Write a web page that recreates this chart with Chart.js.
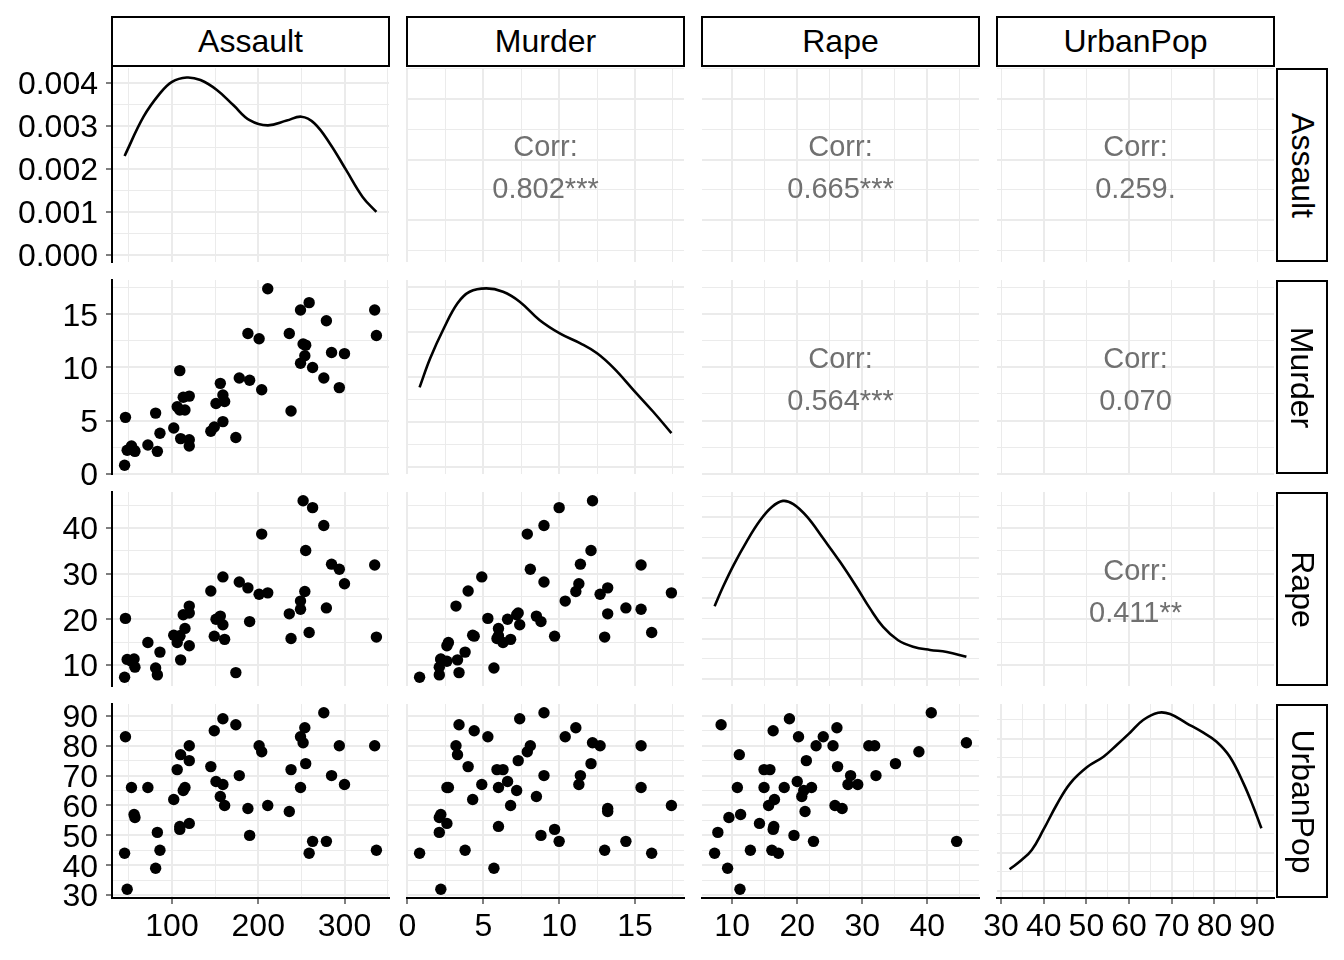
<!DOCTYPE html>
<html>
<head>
<meta charset="utf-8">
<script src="https://cdn.jsdelivr.net/npm/chart.js@4.4.1/dist/chart.umd.min.js"></script>
<style>
body { margin: 0; background: #fff; }
#wrap { position: relative; width: 1344px; height: 960px; overflow: hidden; font-family: 'Liberation Sans', Arial, sans-serif; }
canvas { position: absolute; }
.strip { position: absolute; box-sizing: border-box; border: 2.5px solid #000; background: #fff; display: flex; align-items: center; justify-content: center; font-size: 32px; color: #000; }
.strip.side span { transform: rotate(90deg); white-space: nowrap; }
.corr { position: absolute; text-align: center; color: #707070; font-size: 29px; line-height: 42px; }
</style>
</head>
<body>
<div id="wrap"></div>
<script>
// USArrests (state order)
const vars = ['Assault', 'Murder', 'Rape', 'UrbanPop'];
const assault = [236,263,294,190,276,204,110,238,335,211,46,120,249,113,56,115,109,249,83,300,149,255,72,259,178,109,102,252,57,159,285,254,337,45,120,151,159,106,174,279,86,188,201,120,48,156,145,81,53,161];
const murder = [13.2,10.0,8.1,8.8,9.0,7.9,3.3,5.9,15.4,17.4,5.3,2.6,10.4,7.2,2.2,6.0,9.7,15.4,2.1,11.3,4.4,12.1,2.7,16.1,9.0,6.0,4.3,12.2,2.1,7.4,11.4,11.1,13.0,0.8,7.3,6.6,4.9,6.3,3.4,14.4,3.8,13.2,12.7,3.2,2.2,8.5,4.0,5.7,2.6,6.8];
const rape = [21.2,44.5,31.0,19.5,40.6,38.7,11.1,15.8,31.9,25.8,20.2,14.2,24.0,21.0,11.3,18.0,16.3,22.2,7.8,27.8,16.3,35.1,14.9,17.1,28.2,16.4,16.5,46.0,9.5,18.8,32.1,26.1,16.1,7.3,21.4,20.0,29.3,14.9,8.3,22.5,12.8,26.9,25.5,22.9,11.2,20.7,26.2,9.3,10.8,15.6];
const urbanPop = [58,48,80,50,91,78,77,72,80,60,83,54,83,65,57,66,52,66,51,67,85,74,66,44,70,53,62,81,56,89,70,86,45,44,75,68,67,72,87,48,45,59,80,80,32,63,73,39,66,60];

// density curves
const assaultDensX = [45,67,86,100,117,133,152,171,190,211,233,250,265,283,302,321,337];
const assaultDensY = [0.00230,0.00321,0.00375,0.00402,0.00412,0.00406,0.00383,0.00348,0.00313,0.00301,0.00312,0.00321,0.00306,0.00259,0.00197,0.00135,0.00100];
const murderDensX = [0.8,1.5,2.4,3.3,4.1,5.2,6.3,7.4,8.7,10.1,11.4,12.5,13.6,14.9,16.2,17.4];
const murderDensY = [0.0354,0.0483,0.0616,0.0727,0.0778,0.0793,0.0778,0.0734,0.0653,0.0591,0.0549,0.0505,0.0439,0.0342,0.0246,0.0151];
const rapeDensX = [7.3,8.6,10.2,12.2,14.3,16.1,17.8,19.4,21.5,24.0,26.6,29.1,31.2,33.2,35.5,37.8,40.4,43.0,46.0];
const rapeDensY = [0.0180,0.0228,0.0281,0.0339,0.0392,0.0425,0.0440,0.0432,0.0401,0.0347,0.0289,0.0228,0.0174,0.0129,0.0096,0.0080,0.0072,0.0067,0.0055];
const urbanDensX = [32,34.8,37.2,39.9,43.0,46.2,50.1,54.0,57.1,60.2,63.3,66.8,69.6,73.5,77.4,80.5,83.6,86.8,89.1,91];
const urbanDensY = [0.00282,0.00404,0.00536,0.00799,0.01128,0.01413,0.01624,0.01763,0.01917,0.02079,0.02246,0.02342,0.02325,0.02203,0.02079,0.01961,0.01763,0.01413,0.01105,0.00821];

// tick labels / breaks
const assaultTicks = [100, 200, 300];
const assaultMinor = [50, 150, 250, 350];
const murderTicks = [0, 5, 10, 15];
const murderMinor = [2.5, 7.5, 12.5, 17.5];
const rapeTicks = [10, 20, 30, 40];
const rapeMinor = [15, 25, 35, 45];
const urbanTicks = [30, 40, 50, 60, 70, 80, 90];
const urbanMinor = [35, 45, 55, 65, 75, 85];
const urbanCorrTicks = [40, 60, 80];
const urbanCorrMinor = [30, 50, 70, 90];
const assaultDensTicks = [0, 0.001, 0.002, 0.003, 0.004];
const assaultDensMinor = [0.0005, 0.0015, 0.0025, 0.0035];
const murderDensTicks = [0, 0.02, 0.04, 0.06, 0.08];
const murderDensMinor = [0.01, 0.03, 0.05, 0.07];
const rapeDensTicks = [0, 0.01, 0.02, 0.03, 0.04];
const rapeDensMinor = [0.005, 0.015, 0.025, 0.035, 0.045];
const urbanDensTicks = [0, 0.005, 0.01, 0.015, 0.02];
const urbanDensMinor = [0.0025, 0.0075, 0.0125, 0.0175, 0.0225];

const corrPairs = [[0, 1], [0, 2], [0, 3], [1, 2], [1, 3], [2, 3]];
const corrLabels = ['0.802***', '0.665***', '0.259.', '0.564***', '0.070', '0.411**'];

const values = { Assault: assault, Murder: murder, Rape: rape, UrbanPop: urbanPop };
const ranges = { Assault: [30.4, 351.6], Murder: [-0.03, 18.23], Rape: [5.365, 47.935], UrbanPop: [29.05, 93.95] };
const breaks = {
    Assault: [assaultTicks, assaultMinor], Murder: [murderTicks, murderMinor],
    Rape: [rapeTicks, rapeMinor], UrbanPop: [urbanTicks, urbanMinor]
};
const dens = {
    Assault: { x: assaultDensX, y: assaultDensY, range: [-0.00016, 0.00434], br: [assaultDensTicks, assaultDensMinor] },
    Murder: { x: murderDensX, y: murderDensY, range: [-0.003, 0.083], br: [murderDensTicks, murderDensMinor] },
    Rape: { x: rapeDensX, y: rapeDensY, range: [-0.0017, 0.0462], br: [rapeDensTicks, rapeDensMinor] },
    UrbanPop: { x: urbanDensX, y: urbanDensY, range: [-0.00096, 0.02457], br: [urbanDensTicks, urbanDensMinor] }
};

// layout
const COL_X = [112, 407, 702, 997];
const ROW_Y = [68, 280, 492, 704];
const PW = 277, PH = 194;
const AXIS_W = 112, AXIS_H = 62, PAD_T = 10, PAD_R = 20;

Chart.defaults.font.family = "'Liberation Sans', Arial, sans-serif";
Chart.defaults.color = '#000';

const wrap = document.getElementById('wrap');

function axis(pos, range, br, show, fmt) {
    const list = br[0].map(v => ({ value: v, isMajor: true }))
        .concat(br[1].map(v => ({ value: v, isMajor: false })))
        .sort((a, b) => a.value - b.value);
    return {
        type: 'linear', position: pos, min: range[0], max: range[1],
        afterBuildTicks: s => { s.ticks = list.map(t => ({ value: t.value, isMajor: t.isMajor })); },
        afterFit: s => {
            // keep the panel box fixed: no label overflow padding
            if (pos === 'left') s.width = show ? AXIS_W : 0;
            else s.height = show ? AXIS_H : 0;
            s.paddingTop = 0; s.paddingBottom = 0; s.paddingLeft = 0; s.paddingRight = 0;
        },
        ticks: {
            display: show, autoSkip: false, maxRotation: 0, minRotation: 0,
            padding: pos === 'left' ? 8 : 4, color: '#000', font: { size: 32 },
            labelOffset: pos === 'left' ? 2.5 : 0,
            callback: (v, i, ts) => ts[i].isMajor ? fmt(v) : ''
        },
        grid: {
            color: '#ebebeb',
            lineWidth: c => (c.tick && c.tick.isMajor) ? 2 : 1,
            drawTicks: show, tickLength: 6, tickWidth: 1.5,
            tickColor: c => (c.tick && c.tick.isMajor) ? '#555' : 'rgba(0,0,0,0)'
        },
        border: { display: show, color: '#000', width: 2 }
    };
}

for (let r = 0; r < 4; r++) {
    for (let c = 0; c < 4; c++) {
        const xv = vars[c], yv = vars[r];
        const showY = c === 0, showX = r === 3;
        const cv = document.createElement('canvas');
        const w = PW + AXIS_W + PAD_R, h = PH + PAD_T + AXIS_H;
        cv.width = w; cv.height = h;
        cv.style.left = (COL_X[c] - AXIS_W) + 'px';
        cv.style.top = (ROW_Y[r] - PAD_T) + 'px';
        cv.style.width = w + 'px'; cv.style.height = h + 'px';
        wrap.appendChild(cv);

        const isCorr = r < c;
        const xBr = (isCorr && xv === 'UrbanPop') ? [urbanCorrTicks, urbanCorrMinor] : breaks[xv];
        const xScale = axis('bottom', ranges[xv], xBr, showX, v => String(v));
        let yScale, datasets = [];
        if (r === c) {
            const d = dens[xv];
            yScale = axis('left', d.range, d.br, showY, v => v.toFixed(3));
            datasets.push({
                data: d.x.map((v, i) => ({ x: v, y: d.y[i] })),
                showLine: true, borderColor: '#000', borderWidth: 2.6,
                pointRadius: 0, tension: 0.4, fill: false
            });
        } else {
            yScale = axis('left', ranges[yv], breaks[yv], showY, v => String(v));
            if (r > c) {
                datasets.push({
                    data: values[xv].map((v, i) => ({ x: v, y: values[yv][i] })),
                    pointRadius: 5.7, pointBackgroundColor: '#000', pointBorderWidth: 0
                });
            }
        }

        new Chart(cv, {
            type: 'scatter',
            data: { datasets },
            options: {
                responsive: false, animation: false, events: [],
                layout: {
                    autoPadding: false,
                    padding: { left: showY ? 0 : AXIS_W, right: PAD_R, top: PAD_T, bottom: showX ? 0 : AXIS_H }
                },
                scales: { x: xScale, y: yScale },
                plugins: { legend: { display: false }, tooltip: { enabled: false } }
            }
        });
    }
}

// correlation labels
corrPairs.forEach(([r, c], i) => {
    const el = document.createElement('div');
    el.className = 'corr';
    el.style.left = COL_X[c] + 'px';
    el.style.width = PW + 'px';
    el.style.top = (ROW_Y[r] + 57) + 'px';
    el.innerHTML = 'Corr:<br>' + corrLabels[i];
    wrap.appendChild(el);
});

// strips
vars.forEach((v, i) => {
    const top = document.createElement('div');
    top.className = 'strip';
    top.style.left = (COL_X[i] - 1) + 'px';
    top.style.top = '16px';
    top.style.width = (PW + 2) + 'px';
    top.style.height = '51px';
    top.textContent = v;
    wrap.appendChild(top);

    const side = document.createElement('div');
    side.className = 'strip side';
    side.style.left = '1276px';
    side.style.top = ROW_Y[i] + 'px';
    side.style.width = '52px';
    side.style.height = PH + 'px';
    const s = document.createElement('span');
    s.textContent = v;
    side.appendChild(s);
    wrap.appendChild(side);
});
</script>
</body>
</html>
